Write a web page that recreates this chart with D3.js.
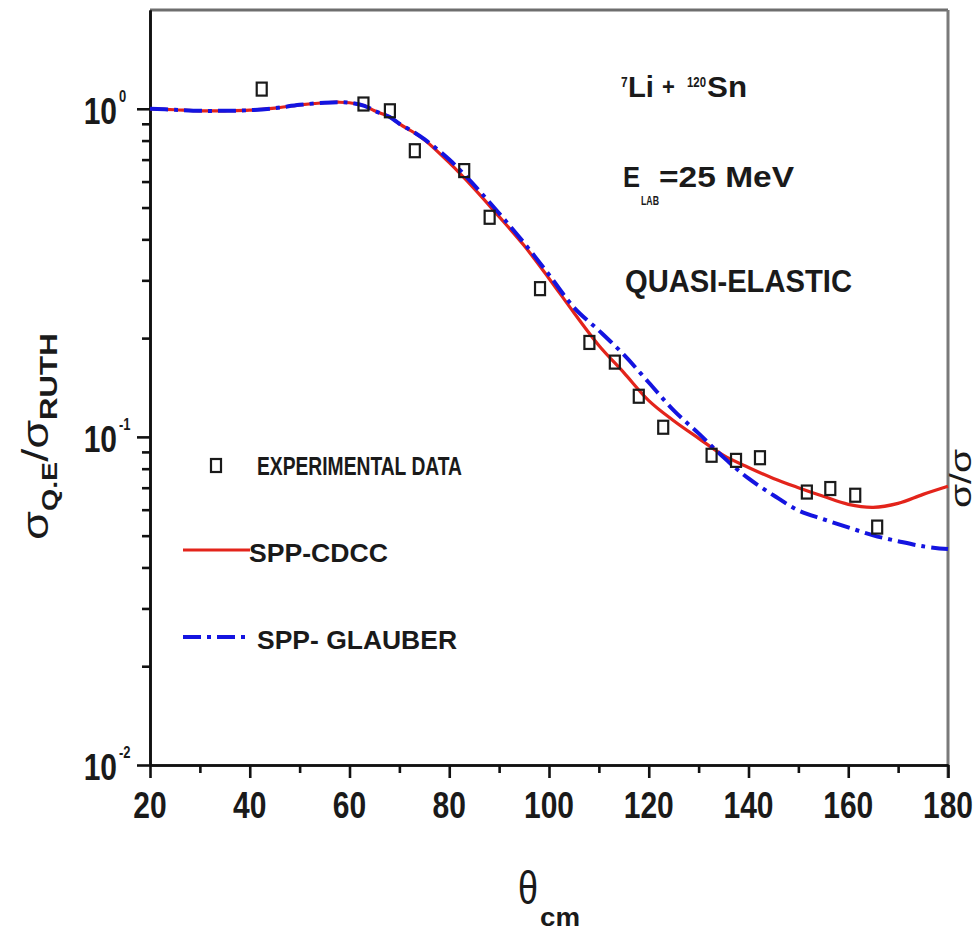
<!DOCTYPE html>
<html>
<head>
<meta charset="utf-8">
<script src="https://cdn.jsdelivr.net/npm/d3@7"></script>
<style>
  html, body { margin: 0; padding: 0; background: #fff; }
  svg { display: block; }
  text { font-family: "Liberation Sans", Arial, Helvetica, sans-serif; font-weight: bold; fill: #1a1a1a; }
</style>
</head>
<body>
<svg id="chart" width="979" height="931"></svg>
<script>
// Experimental quasi-elastic cross sections (ratio to Rutherford)
const expTheta = [42.4, 62.8, 68.1, 73.1, 83.0, 88.1, 98.2, 108.1, 113.2, 118.0, 122.9, 132.6, 137.5, 142.3, 151.7, 156.4, 161.4, 165.8];
const expRatio = [1.148, 1.034, 0.986, 0.745, 0.648, 0.467, 0.283, 0.194, 0.169, 0.133, 0.107, 0.0879, 0.0848, 0.0864, 0.0679, 0.0696, 0.0664, 0.0531];

// Angular grid for the calculations
const calcTheta = [20, 25, 30, 35, 40, 45, 50, 55, 58, 60, 63, 65, 68, 70, 73, 75, 80, 85, 90, 95, 100, 105, 110, 115, 120, 125, 130, 135, 140, 145, 150, 155, 160, 165, 170, 175, 180];
// SPP-CDCC
const cdccRatio = [1.000, 0.993, 0.986, 0.986, 0.990, 1.004, 1.028, 1.043, 1.047, 1.043, 1.021, 0.986, 0.945, 0.900, 0.845, 0.805, 0.685, 0.571, 0.469, 0.383, 0.304, 0.239, 0.190, 0.157, 0.129, 0.112, 0.0990, 0.0878, 0.0807, 0.0747, 0.0700, 0.0659, 0.0623, 0.0610, 0.0627, 0.0668, 0.0707];
// SPP-GLAUBER
const glauberRatio = [1.000, 0.993, 0.986, 0.986, 0.990, 1.004, 1.028, 1.043, 1.047, 1.043, 1.021, 0.986, 0.945, 0.900, 0.847, 0.808, 0.700, 0.585, 0.480, 0.390, 0.312, 0.248, 0.211, 0.178, 0.1465, 0.1204, 0.1025, 0.0866, 0.0747, 0.0664, 0.0597, 0.0561, 0.0530, 0.0501, 0.0481, 0.0464, 0.0455];

// Axis ticks
const xMajorTicks = [20, 40, 60, 80, 100, 120, 140, 160, 180];
const xMinorTicks = [30, 50, 70, 90, 110, 130, 150, 170];
const xTickLabels = ["20", "40", "60", "80", "100", "120", "140", "160", "180"];
const yMajorTicks = [0.01, 0.1, 1];
const yTickExponents = ["-2", "-1", "0"];
const yMinorTicks = [0.02, 0.03, 0.04, 0.05, 0.06, 0.07, 0.08, 0.09, 0.2, 0.3, 0.4, 0.5, 0.6, 0.7, 0.8, 0.9];

const legendLabels = ["EXPERIMENTAL DATA", "SPP-CDCC", "SPP- GLAUBER"];

const svg = d3.select("#chart");
svg.append("rect").attr("width", 979).attr("height", 931).attr("fill", "#fff");

const x = d3.scaleLinear().domain([20, 180]).range([150, 948]);
const y = d3.scaleLog().domain([0.01, 2]).range([765, 10]);

// Text helper: glyphs drawn taller than wide via vertical scale
function label(parent, opts) {
  const g = parent.append("g")
    .attr("transform", `translate(${opts.x},${opts.y}) scale(1,${opts.sy || 1})` + (opts.rotate ? ` rotate(${opts.rotate})` : ""));
  const t = g.append("text")
    .attr("x", 0).attr("y", 0)
    .attr("font-size", opts.size)
    .attr("text-anchor", opts.anchor || "start")
    .text(opts.text);
  if (opts.width) t.attr("textLength", opts.width).attr("lengthAdjust", "spacingAndGlyphs");
  if (opts.weight) t.style("font-weight", opts.weight);
  return t;
}

// Frame: top and right edges in grey
svg.append("line").attr("x1", x(20)).attr("x2", x(180)).attr("y1", y(2)).attr("y2", y(2))
  .attr("stroke", "#6e6e6e").attr("stroke-width", 3);
svg.append("line").attr("x1", x(180)).attr("x2", x(180)).attr("y1", y(2)).attr("y2", y(0.01) + 13)
  .attr("stroke", "#7a7a7a").attr("stroke-width", 3);

// Bottom axis
const xAxisMajor = d3.axisBottom(x).tickValues(xMajorTicks).tickSize(13).tickFormat("").tickSizeOuter(0);
const xAxisMinor = d3.axisBottom(x).tickValues(xMinorTicks).tickSize(8).tickFormat("").tickSizeOuter(0);
const gxMinor = svg.append("g").attr("transform", `translate(0,${y(0.01)})`).call(xAxisMinor);
const gx = svg.append("g").attr("transform", `translate(0,${y(0.01)})`).call(xAxisMajor);
[gx, gxMinor].forEach(g => {
  g.selectAll("path").attr("stroke", "#111").attr("stroke-width", 2.6);
  g.selectAll(".tick line").attr("stroke", "#111").attr("stroke-width", 2.6);
});

// Left axis
const yAxisMajor = d3.axisLeft(y).tickValues(yMajorTicks).tickSize(13).tickFormat("").tickSizeOuter(0);
const yAxisMinor = d3.axisLeft(y).tickValues(yMinorTicks).tickSize(8).tickFormat("").tickSizeOuter(0);
const gyMinor = svg.append("g").attr("transform", `translate(${x(20)},0)`).call(yAxisMinor);
const gy = svg.append("g").attr("transform", `translate(${x(20)},0)`).call(yAxisMajor);
[gy, gyMinor].forEach(g => {
  g.selectAll("path").attr("stroke", "#111").attr("stroke-width", 2.6);
  g.selectAll(".tick line").attr("stroke", "#111").attr("stroke-width", 2.6);
});

// X tick labels
xMajorTicks.forEach((v, i) => {
  label(svg, { x: x(v), y: 818, text: xTickLabels[i], size: 30, sy: 1.25, anchor: "middle" });
});

// Y tick labels: 10 with superscript exponent
yMajorTicks.forEach((v, i) => {
  label(svg, { x: 117, y: y(v) + 15, text: "10", size: 30, sy: 1.2, anchor: "end" });
  label(svg, { x: 119, y: y(v) - 7, text: yTickExponents[i], size: 13, sy: 1.2, anchor: "start" });
});

// Axis titles
const yTitle = svg.append("g").attr("transform", "translate(48,540) scale(1,1.3) rotate(-90)");
const yt = yTitle.append("text").attr("x", 0).attr("y", 0);
yt.append("tspan").attr("font-size", 36).style("font-weight", "normal").text("σ");
yt.append("tspan").attr("font-size", 22).attr("dy", 9).text("Q.E");
yt.append("tspan").attr("font-size", 36).attr("dy", -9).style("font-weight", "normal").text("/σ");
yt.append("tspan").attr("font-size", 24).attr("dy", 9).text("RUTH");

// Neighbouring panel's axis title at the right edge
const yTitle2 = svg.append("g").attr("transform", "translate(971,508) scale(1,1.3) rotate(-90)");
yTitle2.append("text").attr("font-size", 30).style("font-weight", "normal").text("σ/σ");

label(svg, { x: 518, y: 904, text: "θ", size: 36, sy: 1.3, weight: "normal" });
label(svg, { x: 540, y: 926, text: "cm", size: 22, sy: 1.2, width: 40 });

// Annotations
label(svg, { x: 621, y: 87, text: "7", size: 12, sy: 1.2 });
label(svg, { x: 628, y: 97, text: "Li", size: 26, sy: 1.1, width: 26 });
label(svg, { x: 662, y: 95, text: "+", size: 22, sy: 1.05 });
label(svg, { x: 687, y: 87, text: "120", size: 12, sy: 1.2, width: 19 });
label(svg, { x: 707, y: 97, text: "Sn", size: 26, sy: 1.1, width: 40 });

label(svg, { x: 623, y: 187, text: "E", size: 26, sy: 1.1, width: 17 });
label(svg, { x: 641, y: 205, text: "LAB", size: 12, sy: 1.1, width: 18 });
label(svg, { x: 659, y: 187, text: "=25 MeV", size: 26, sy: 1.1, width: 135 });

label(svg, { x: 625, y: 292, text: "QUASI-ELASTIC", size: 28, sy: 1.1, width: 227 });

// Theory curves
const line = d3.line()
  .x(d => x(d[0]))
  .y(d => y(d[1]))
  .curve(d3.curveCatmullRom.alpha(0.5));

const cdccPts = calcTheta.map((t, i) => [t, cdccRatio[i]]);
const glauberPts = calcTheta.map((t, i) => [t, glauberRatio[i]]);

svg.append("path").datum(cdccPts).attr("d", line)
  .attr("fill", "none").attr("stroke", "#e3241b").attr("stroke-width", 3.2);
svg.append("path").datum(glauberPts).attr("d", line)
  .attr("fill", "none").attr("stroke", "#1414e0").attr("stroke-width", 4)
  .attr("stroke-dasharray", "18,6,4,6");

// Experimental points
svg.append("g").selectAll("rect").data(expTheta.map((t, i) => [t, expRatio[i]]))
  .join("rect")
  .attr("x", d => x(d[0]) - 5).attr("y", d => y(d[1]) - 6.5)
  .attr("width", 10).attr("height", 13)
  .attr("fill", "none").attr("stroke", "#1a1a1a").attr("stroke-width", 2.2);

// Legend
svg.append("rect").attr("x", 211).attr("y", 459).attr("width", 10).attr("height", 13)
  .attr("fill", "none").attr("stroke", "#1a1a1a").attr("stroke-width", 2.2);
label(svg, { x: 257, y: 475, text: legendLabels[0], size: 19, sy: 1.4, width: 205 });

svg.append("line").attr("x1", 183).attr("x2", 250).attr("y1", 550).attr("y2", 550)
  .attr("stroke", "#e3241b").attr("stroke-width", 3.2);
label(svg, { x: 249, y: 562, text: legendLabels[1], size: 19, sy: 1.4, width: 139 });

svg.append("line").attr("x1", 183).attr("x2", 251).attr("y1", 637).attr("y2", 637)
  .attr("stroke", "#1414e0").attr("stroke-width", 4).attr("stroke-dasharray", "18,6,4,6");
label(svg, { x: 257, y: 649, text: legendLabels[2], size: 19, sy: 1.4, width: 200 });
</script>
</body>
</html>
